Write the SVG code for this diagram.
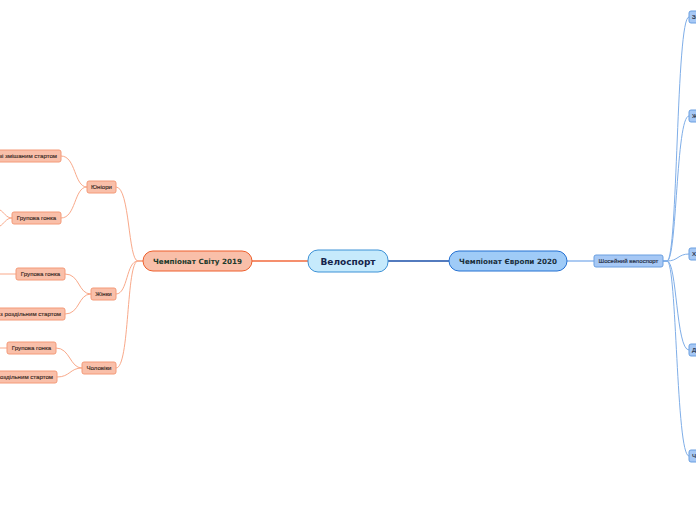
<svg xmlns="http://www.w3.org/2000/svg" width="696" height="520" viewBox="0 0 696 520">
<style>
text{font-family:"DejaVu Sans","Liberation Sans",sans-serif;}
.c1{fill:none;stroke:#f9a98a;stroke-width:1}
.c2{fill:none;stroke:#7faee8;stroke-width:1}
.ln{fill:#f9bfa9;stroke:#f49a78;stroke-width:1}
.lt{font-family:"Liberation Sans",Arial,sans-serif;font-size:6.1px;fill:#3a2a25;text-anchor:middle;stroke:#3a2a25;stroke-width:0.15}
.le{text-anchor:end}
.rn{fill:#a6c8f5;stroke:#6a9fe0;stroke-width:1}
.rt{font-family:"Liberation Sans",Arial,sans-serif;font-size:6.1px;fill:#1e2a40;stroke:#1e2a40;stroke-width:0.15}
</style>
<rect width="696" height="520" fill="#ffffff"/>
<g id="connectors">
<path d="M252,261 H308" fill="none" stroke="#f26a3c" stroke-width="1.5"/>
<path d="M388,261 H449" fill="none" stroke="#1a4fa8" stroke-width="1.5"/>
<path d="M567,261 H594" fill="none" stroke="#8fb8ee" stroke-width="1.5"/>
<path class="c1" d="M143,261 H138 C128,261 130,187 116,187"/>
<path class="c1" d="M143,261 H138 C126,261 128,294 116,294"/>
<path class="c1" d="M143,261 H138 C126,261 130,368 116,368"/>
<path class="c1" d="M87,187 C74,187 76,156 61,156"/>
<path class="c1" d="M87,187 C74,187 76,218 61,218"/>
<path class="c1" d="M91,294 C78,294 80,274 65,274"/>
<path class="c1" d="M91,294 C78,294 80,314 65,314"/>
<path class="c1" d="M82,368 C70,368 70,348 56,348"/>
<path class="c1" d="M82,368 C70,368 70,377 57,377"/>
<path class="c1" d="M12,218 C6,218 4,212 0,210"/>
<path class="c1" d="M12,218 C6,218 4,224 0,226"/>
<path class="c1" d="M16,274 H0"/>
<path class="c1" d="M7,348 H0"/>
<path class="c2" d="M663,261 H667 C678,261 676,17 689,17"/>
<path class="c2" d="M663,261 H667 C677,261 676,116 689,116"/>
<path class="c2" d="M663,261 H667 C678,261 678,254 689,254"/>
<path class="c2" d="M663,261 H667 C677,261 676,350 689,350"/>
<path class="c2" d="M663,261 H667 C677,261 676,456 689,456"/>
</g>
<g id="root">
<rect x="308" y="250" width="80" height="22" rx="10" fill="#c6eafc" stroke="#3d92d6" stroke-width="1"/>
<text x="348" y="264.5" text-anchor="middle" font-size="9" font-weight="bold" fill="#15244a">Велоспорт</text>
</g>
<g id="worlds">
<rect x="143" y="251" width="109" height="20" rx="10" fill="#f9bfa9" stroke="#ee5f2c" stroke-width="1"/>
<text x="197.5" y="264" text-anchor="middle" font-size="7.2" font-weight="bold" fill="#1d3a2c">Чемпіонат Світу 2019</text>
</g>
<g id="europe">
<rect x="449" y="251" width="118" height="20" rx="10" fill="#9fcbf7" stroke="#2370d2" stroke-width="1"/>
<text x="508" y="264" text-anchor="middle" font-size="7.2" font-weight="bold" fill="#1a2f3c">Чемпіонат Європи 2020</text>
</g>
<g id="road">
<rect class="rn" x="594" y="255" width="69" height="12" rx="2"/>
<text x="628.5" y="263.2" text-anchor="middle" class="rt">Шосейний велоспорт</text>
</g>
<g id="juniors"><rect class="ln" x="87" y="181" width="29" height="12" rx="2"/><text class="lt" x="101.5" y="189.3">Юніори</text></g>
<g id="women"><rect class="ln" x="91" y="288" width="25" height="12" rx="2"/><text class="lt" x="103.5" y="296.3">Жінки</text></g>
<g id="men"><rect class="ln" x="82" y="362" width="34" height="12" rx="2"/><text class="lt" x="99" y="370.3">Чоловіки</text></g>
<g id="j-mixed"><rect class="ln" x="-30" y="150" width="91" height="12" rx="2"/><text class="lt le" x="57" y="158.3">Гонка зі змішаним стартом</text></g>
<g id="j-road"><rect class="ln" x="12" y="212" width="49" height="12" rx="2"/><text class="lt" x="36.5" y="220.3">Групова гонка</text></g>
<g id="w-road"><rect class="ln" x="16" y="268" width="49" height="12" rx="2"/><text class="lt" x="40.5" y="276.3">Групова гонка</text></g>
<g id="w-tt"><rect class="ln" x="-30" y="308" width="95" height="12" rx="2"/><text class="lt le" x="61" y="316.3">Гонка з роздільним стартом</text></g>
<g id="m-road"><rect class="ln" x="7" y="342" width="49" height="12" rx="2"/><text class="lt" x="31.5" y="350.3">Групова гонка</text></g>
<g id="m-tt"><rect class="ln" x="-38" y="371" width="95" height="12" rx="2"/><text class="lt le" x="53" y="379.3">Гонка з роздільним стартом</text></g>
<g id="r1"><rect class="rn" x="689" y="11" width="60" height="12" rx="2"/><text class="rt" x="692" y="19.3">Змішана естафета</text></g>
<g id="r2"><rect class="rn" x="689" y="110" width="60" height="12" rx="2"/><text class="rt" x="692" y="118.3">Жінки</text></g>
<g id="r3"><rect class="rn" x="689" y="248" width="60" height="12" rx="2"/><text class="rt" x="692" y="256.3">Хлопці</text></g>
<g id="r4"><rect class="rn" x="689" y="344" width="60" height="12" rx="2"/><text class="rt" x="692" y="352.3">Дівчата</text></g>
<g id="r5"><rect class="rn" x="689" y="450" width="60" height="12" rx="2"/><text class="rt" x="692" y="458.3">Чоловіки</text></g>
</svg>
